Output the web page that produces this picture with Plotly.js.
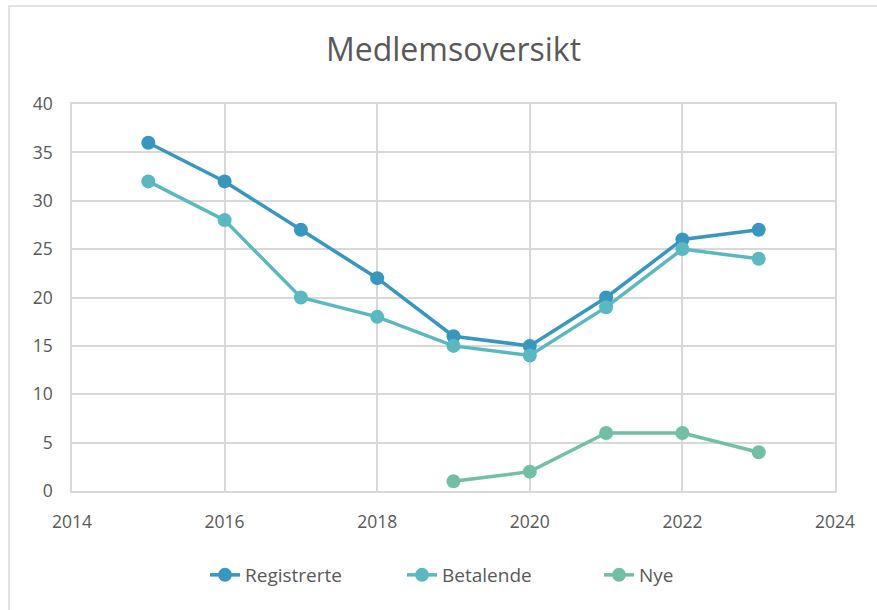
<!DOCTYPE html>
<html>
<head>
<meta charset="utf-8">
<script src="https://cdn.plot.ly/plotly-3.0.1.min.js"></script>
<style>html,body{margin:0;padding:0;background:#fff;}#chart{width:877px;height:610px;}</style>
</head>
<body>
<div id="chart"></div>
<script>
const years = [2015, 2016, 2017, 2018, 2019, 2020, 2021, 2022, 2023];
const registrerte = [36, 32, 27, 22, 16, 15, 20, 26, 27];
const betalende = [32, 28, 20, 18, 15, 14, 19, 25, 24];
const nyeYears = [2019, 2020, 2021, 2022, 2023];
const nye = [1, 2, 6, 6, 4];
const seriesNames = ['Registrerte', 'Betalende', 'Nye'];
const colors = ['#3797be', '#5bb8c0', '#72bfa5'];

function tr(x, y, i) {
  return {x: x, y: y, name: seriesNames[i], type: 'scatter', mode: 'lines+markers',
    line: {color: colors[i], width: 3.5}, marker: {color: colors[i], size: 14}};
}
const data = [tr(years, registrerte, 0), tr(years, betalende, 1), tr(nyeYears, nye, 2)];
const fontFam = 'Open Sans, sans-serif';
const layout = {
  width: 877, height: 610,
  margin: {l: 72, r: 42, t: 104, b: 119},
  paper_bgcolor: '#ffffff', plot_bgcolor: '#ffffff',
  font: {family: fontFam, color: '#595959', size: 17},
  title: {text: 'Medlemsoversikt', font: {family: fontFam, size: 32, color: '#595959'}, x: 0.5, xanchor: 'center', y: 1 - 50/610, yanchor: 'middle', xref: 'paper'},
  xaxis: {range: [2014, 2024], tickvals: [2014, 2016, 2018, 2020, 2022, 2024], showgrid: true, gridcolor: '#d9d9d9', gridwidth: 1.5,
    zeroline: false, showline: true, linecolor: '#d9d9d9', linewidth: 1.5, mirror: true, ticks: '', ticklabelstandoff: 14, tickfont: {size: 17.5}},
  yaxis: {range: [0, 40], tickvals: [0, 5, 10, 15, 20, 25, 30, 35, 40], showgrid: true, gridcolor: '#d9d9d9', gridwidth: 1.5,
    zeroline: false, showline: true, linecolor: '#d9d9d9', linewidth: 1.5, mirror: true, ticks: '', ticklabelstandoff: 14, tickfont: {size: 17.5}},
  legend: {orientation: 'h', xref: 'container', yref: 'container', x: 205/877, xanchor: 'left', y: 1 - 575/610, yanchor: 'middle', font: {size: 19}, entrywidth: 152, entrywidthmode: 'pixels'},
  showlegend: true,
  shapes: [{type: 'rect', xref: 'paper', yref: 'paper', x0: (9-72)/763, x1: (900-72)/763, y0: (491-640)/387, y1: (491-6)/387,
    line: {color: '#d9d9d9', width: 1.5}, fillcolor: 'rgba(0,0,0,0)', layer: 'below'}]
};
Plotly.newPlot('chart', data, layout, {displayModeBar: false});
</script>
</body>
</html>
